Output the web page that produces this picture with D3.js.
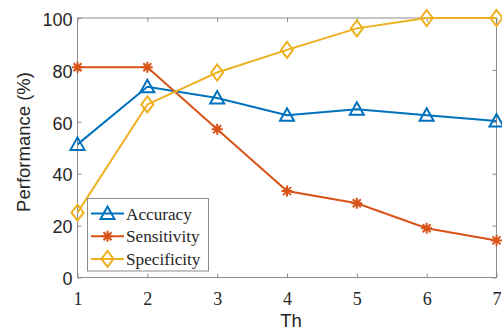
<!DOCTYPE html>
<html>
<head>
<meta charset="utf-8">
<script src="https://cdn.jsdelivr.net/npm/d3@7"></script>
<style>
  html, body { margin: 0; padding: 0; background: #fff; }
  svg { display: block; }
</style>
</head>
<body>
<svg id="chart" width="502" height="331"></svg>
<script>
// Threshold values on the x axis
const thresholds = [1, 2, 3, 4, 5, 6, 7];
// Performance (%) per threshold
const accuracy    = [51.3, 73.5, 69.2, 62.5, 64.8, 62.5, 60.3];
const sensitivity = [81, 81, 57.1, 33.3, 28.6, 19.0, 14.3];
const specificity = [25.0, 66.7, 79.0, 87.7, 96.0, 100, 100];
const seriesNames = ["Accuracy", "Sensitivity", "Specificity"];
const seriesColors = ["#0072BD", "#D95319", "#EDB120"];
const seriesMarkers = ["triangle", "star", "diamond"];
const yTicks = [0, 20, 40, 60, 80, 100];

const svg = d3.select("#chart");
const plotL = 77.5, plotR = 496.5, plotT = 18, plotB = 277.5;

const x = d3.scaleLinear().domain([1, 7]).range([plotL, plotR]);
const y = d3.scaleLinear().domain([0, 100]).range([plotB, plotT]);
const axisColor = "#8c8c8c";

// Box and ticks
svg.append("rect")
  .attr("x", plotL).attr("y", plotT)
  .attr("width", plotR - plotL).attr("height", plotB - plotT)
  .attr("fill", "none").attr("stroke", axisColor).attr("stroke-width", 1);

const xAxis = svg.append("g").attr("transform", `translate(0,${plotB})`)
  .call(d3.axisBottom(x).tickValues(thresholds).tickSize(-4).tickFormat(d3.format("d")).tickPadding(15));
const xTop = svg.append("g").attr("transform", `translate(0,${plotT})`)
  .call(d3.axisTop(x).tickValues(thresholds).tickSize(-4).tickFormat(""));
const yAxis = svg.append("g").attr("transform", `translate(${plotL},0)`)
  .call(d3.axisLeft(y).tickValues(yTicks).tickSize(-4).tickPadding(5));
const yRight = svg.append("g").attr("transform", `translate(${plotR},0)`)
  .call(d3.axisRight(y).tickValues(yTicks).tickSize(-4).tickFormat(""));

[xAxis, xTop, yAxis, yRight].forEach(g => {
  g.select(".domain").remove();
  g.selectAll(".tick line").attr("stroke", axisColor);
});
xAxis.selectAll(".tick text")
  .attr("font-family", "'Liberation Serif', 'Times New Roman', serif")
  .attr("font-size", 18).attr("fill", "#262626");
yAxis.selectAll(".tick text")
  .attr("font-family", "'Liberation Sans', Arial, sans-serif")
  .attr("font-size", 18).attr("dy", "0.4em").attr("fill", "#262626");

// Axis titles
svg.append("text")
  .attr("x", 291).attr("y", 327)
  .attr("text-anchor", "middle")
  .attr("font-family", "'Liberation Sans', Arial, sans-serif")
  .attr("font-size", 18.5).attr("fill", "#262626")
  .text("Th");
svg.append("text")
  .attr("transform", "translate(30,142) rotate(-90)")
  .attr("text-anchor", "middle")
  .attr("font-family", "'Liberation Sans', Arial, sans-serif")
  .attr("font-size", 18.5).attr("fill", "#262626")
  .text("Performance (%)");

// Marker shapes
function markerPath(kind) {
  if (kind === "triangle") return "M0,-7L7,5.5L-7,5.5Z";
  if (kind === "diamond") return "M0,-8L6,0L0,8L-6,0Z";
  // asterisk: plus and cross strokes combined
  return "M-5.5,0L5.5,0M0,-5.5L0,5.5M-4,-4L4,4M-4,4L4,-4";
}

const allSeries = [accuracy, sensitivity, specificity];
const line = d3.line().x((d, i) => x(thresholds[i])).y(d => y(d));

allSeries.forEach((vals, s) => {
  const g = svg.append("g");
  g.append("path").datum(vals)
    .attr("d", line).attr("fill", "none")
    .attr("stroke", seriesColors[s]).attr("stroke-width", 2);
  g.selectAll("path.m").data(vals).join("path").attr("class", "m")
    .attr("transform", (d, i) => `translate(${x(thresholds[i])},${y(d)})`)
    .attr("d", markerPath(seriesMarkers[s]))
    .attr("fill", "none")
    .attr("stroke", seriesColors[s]).attr("stroke-width", 2);
});

// Legend
const lg = svg.append("g");
lg.append("rect").attr("x", 87.5).attr("y", 198.5).attr("width", 121).attr("height", 72.5)
  .attr("fill", "#fff").attr("stroke", axisColor).attr("stroke-width", 1);
seriesNames.forEach((name, s) => {
  const cy = 213.5 + s * 22.7;
  lg.append("line").attr("x1", 91).attr("x2", 124).attr("y1", cy).attr("y2", cy)
    .attr("stroke", seriesColors[s]).attr("stroke-width", 2);
  lg.append("path").attr("transform", `translate(107.5,${cy})`)
    .attr("d", markerPath(seriesMarkers[s]))
    .attr("fill", "none").attr("stroke", seriesColors[s]).attr("stroke-width", 2);
  lg.append("text").attr("x", 126).attr("y", cy).attr("dy", "0.35em")
    .attr("font-family", "'Liberation Serif', 'Times New Roman', serif")
    .attr("font-size", 17.2).attr("fill", "#262626")
    .text(name);
});
</script>
</body>
</html>
